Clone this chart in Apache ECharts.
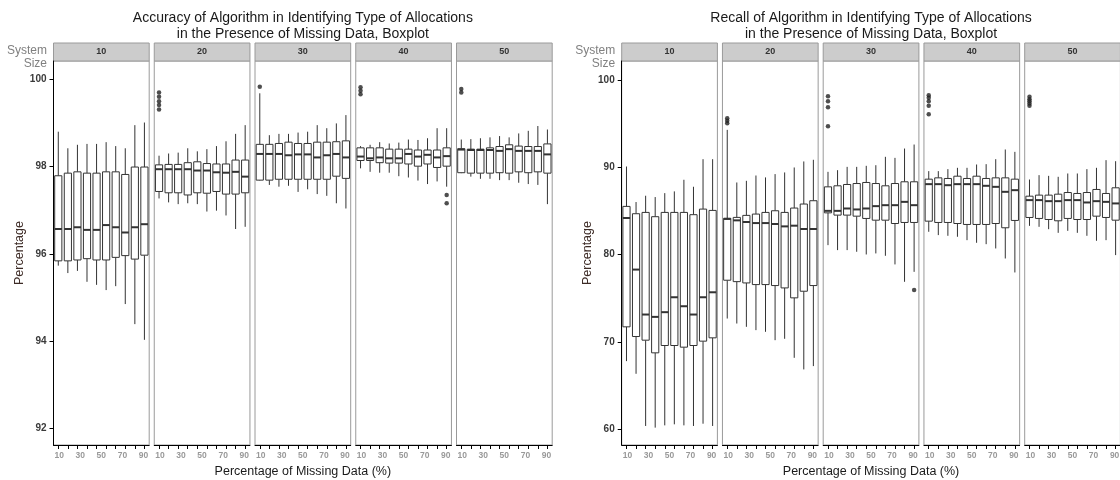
<!DOCTYPE html>
<html>
<head>
<meta charset="utf-8">
<title>Accuracy and Recall boxplots</title>
<script src="https://cdn.jsdelivr.net/npm/echarts@6/dist/echarts.min.js"></script>
<style>
  html, body { margin: 0; padding: 0; background: #fff; }
  #myChart { width: 1120px; height: 480px; }
</style>
</head>
<body>
<div class="chartBox" id="myChart"></div>
<script>
// facets (system size) and x categories (missing data %)
var systemSizes = ['10', '20', '30', '40', '50']
var missingData = ['10', '20', '30', '40', '50', '60', '70', '80', '90', '100']
var missingLabels = [10, 30, 50, 70, 90]
var accTicks = [92, 94, 96, 98, 100]
var recTicks = [60, 70, 80, 90, 100]

// accuracy, one row per box: [lower whisker, Q1, median, Q3, upper whisker]
var acc10 = [
  [95.73, 95.84, 96.57, 97.79, 98.80], [95.56, 95.84, 96.57, 97.85, 98.42],
  [95.61, 95.86, 96.61, 97.88, 98.50], [95.36, 95.89, 96.55, 97.85, 98.52],
  [95.29, 95.86, 96.55, 97.85, 98.52], [95.17, 95.86, 96.66, 97.88, 98.56],
  [95.26, 95.92, 96.61, 97.88, 98.47], [94.85, 95.96, 96.49, 97.82, 98.42],
  [94.39, 95.88, 96.61, 97.99, 98.95], [94.03, 95.97, 96.68, 97.99, 99.01]
]
var acc20 = [
  [97.27, 97.43, 97.94, 98.04, 98.25], [97.18, 97.40, 97.94, 98.05, 98.30],
  [97.14, 97.40, 97.94, 98.05, 98.32], [97.16, 97.35, 97.94, 98.09, 98.42],
  [97.14, 97.40, 97.91, 98.11, 98.35], [96.97, 97.39, 97.91, 98.07, 98.40],
  [96.99, 97.43, 97.87, 98.06, 98.47], [96.88, 97.37, 97.86, 98.06, 98.58],
  [96.57, 97.37, 97.88, 98.15, 98.75], [96.62, 97.40, 97.77, 98.15, 98.95]
]
var acc30 = [
  [97.68, 97.69, 98.29, 98.51, 99.68], [97.58, 97.69, 98.29, 98.51, 98.72],
  [97.54, 97.71, 98.29, 98.53, 98.75], [97.56, 97.71, 98.26, 98.56, 98.75],
  [97.42, 97.71, 98.28, 98.53, 98.78], [97.48, 97.71, 98.28, 98.53, 98.80],
  [97.37, 97.71, 98.21, 98.56, 98.95], [97.33, 97.71, 98.26, 98.56, 98.88],
  [97.16, 97.78, 98.29, 98.57, 98.99], [97.04, 97.73, 98.21, 98.59, 99.18]
]
var acc40 = [
  [97.96, 98.14, 98.23, 98.43, 98.47], [97.88, 98.14, 98.19, 98.43, 98.50],
  [97.86, 98.09, 98.21, 98.43, 98.56], [97.86, 98.08, 98.19, 98.40, 98.53],
  [97.78, 98.08, 98.19, 98.40, 98.55], [97.75, 98.06, 98.29, 98.40, 98.62],
  [97.68, 98.01, 98.23, 98.38, 98.61], [97.60, 98.06, 98.27, 98.38, 98.65],
  [97.66, 97.98, 98.21, 98.38, 98.88], [97.54, 98.01, 98.24, 98.43, 98.88]
]
var acc50 = [
  [97.85, 97.86, 98.39, 98.41, 98.62], [97.77, 97.85, 98.38, 98.40, 98.63],
  [97.72, 97.85, 98.38, 98.40, 98.65], [97.72, 97.85, 98.38, 98.43, 98.67],
  [97.69, 97.86, 98.36, 98.46, 98.70], [97.69, 97.85, 98.40, 98.50, 98.67],
  [97.63, 97.88, 98.36, 98.47, 98.76], [97.60, 97.86, 98.36, 98.46, 98.82],
  [97.58, 97.88, 98.36, 98.46, 98.93], [97.14, 97.85, 98.28, 98.52, 98.85]
]
// outliers: [system size, missing data, value]
var accOutliers = [
  ['20', '10', 99.70], ['20', '10', 99.60], ['20', '10', 99.50], ['20', '10', 99.41], ['20', '10', 99.31],
  ['30', '10', 99.83],
  ['40', '10', 99.82], ['40', '10', 99.74], ['40', '10', 99.66], ['40', '100', 97.35], ['40', '100', 97.16],
  ['50', '10', 99.78], ['50', '10', 99.70]
]

// recall
var rec10 = [
  [67.81, 71.74, 84.21, 85.54, 90.11], [66.36, 70.63, 78.30, 84.70, 86.04],
  [60.38, 70.21, 73.15, 84.85, 86.76], [60.19, 68.76, 72.88, 84.36, 86.61],
  [60.45, 69.60, 73.42, 84.85, 87.06], [60.57, 69.60, 75.13, 84.85, 87.26],
  [60.45, 69.41, 74.10, 84.85, 88.59], [60.38, 69.60, 73.15, 84.59, 87.79],
  [60.64, 70.10, 75.13, 85.23, 90.95], [60.38, 70.48, 75.70, 85.08, 90.95]
]
var rec20 = [
  [72.69, 77.08, 84.10, 84.18, 94.31], [72.12, 76.92, 83.94, 84.28, 88.28],
  [71.74, 76.77, 83.75, 84.51, 88.47], [71.36, 76.58, 83.63, 84.66, 89.08],
  [71.17, 76.58, 83.63, 84.85, 88.86], [70.21, 76.47, 83.52, 85.04, 89.24],
  [70.37, 76.20, 83.25, 84.85, 89.43], [68.19, 75.06, 83.33, 85.35, 90.00],
  [66.86, 75.82, 82.95, 85.81, 90.69], [67.24, 76.47, 82.95, 86.19, 90.88]
]
var rec30 = [
  [81.10, 84.80, 85.03, 87.78, 89.50], [80.53, 84.54, 85.03, 87.90, 89.69],
  [80.53, 84.54, 85.30, 88.05, 90.07], [80.34, 84.42, 85.19, 88.16, 90.07],
  [80.03, 84.16, 85.30, 88.28, 90.19], [80.15, 83.96, 85.57, 88.16, 90.26],
  [79.88, 83.96, 85.68, 87.90, 91.22], [78.89, 83.58, 85.68, 88.16, 91.10],
  [76.90, 83.70, 86.06, 88.36, 92.17], [78.04, 83.70, 85.68, 88.36, 92.63]
]
var rec40 = [
  [82.63, 83.85, 88.09, 88.66, 89.58], [82.25, 83.70, 88.09, 88.81, 89.58],
  [82.17, 83.70, 87.97, 88.74, 89.81], [82.06, 83.58, 88.09, 89.00, 89.96],
  [81.67, 83.47, 88.09, 88.74, 89.96], [81.37, 83.47, 88.09, 89.00, 90.34],
  [81.21, 83.47, 87.90, 88.74, 90.38], [80.72, 83.58, 87.78, 88.81, 90.95],
  [79.57, 83.09, 87.21, 88.81, 92.06], [77.97, 83.93, 87.40, 88.66, 91.79]
]
var rec50 = [
  [83.31, 84.27, 86.26, 86.71, 88.62], [83.20, 84.16, 86.26, 86.83, 89.12],
  [82.93, 84.04, 86.14, 86.83, 89.04], [82.51, 83.89, 86.14, 86.94, 88.93],
  [82.74, 84.16, 86.26, 87.13, 89.31], [82.51, 84.04, 86.26, 87.02, 89.31],
  [82.17, 84.04, 85.99, 87.13, 89.81], [81.60, 84.42, 86.14, 87.48, 89.96],
  [81.67, 84.27, 86.06, 87.02, 90.84], [79.96, 83.96, 85.88, 87.67, 90.72]
]
var recOutliers = [
  ['20', '10', 95.64], ['20', '10', 95.34], ['20', '10', 95.07],
  ['30', '10', 98.17], ['30', '10', 97.59], ['30', '10', 96.91], ['30', '10', 94.73], ['30', '100', 75.95],
  ['40', '10', 98.28], ['40', '10', 97.98], ['40', '10', 97.59], ['40', '10', 97.06], ['40', '10', 96.11],
  ['50', '10', 98.09], ['50', '10', 97.82], ['50', '10', 97.59], ['50', '10', 97.33], ['50', '10', 97.06]
]

var charts = [
  {
    title: 'Accuracy of Algorithm in Identifying Type of Allocations\nin the Presence of Missing Data, Boxplot',
    boxes: [acc10, acc20, acc30, acc40, acc50], outliers: accOutliers,
    ticks: accTicks, min: 91.62, max: 100.42, left: 53.5
  },
  {
    title: 'Recall of Algorithm in Identifying Type of Allocations\nin the Presence of Missing Data, Boxplot',
    boxes: [rec10, rec20, rec30, rec40, rec50], outliers: recOutliers,
    ticks: recTicks, min: 58.2, max: 102.2, left: 621.7
  }
]

// layout
var panelStep = 100.75
var panelWidth = 95.7
var panelTop = 61
var panelHeight = 384
var stripHeight = 18
var font = 'Liberation Sans, Arial, sans-serif'

// ggplot style box: whiskers without caps, thick median
function renderBox(params, api) {
  var i = api.value(0)
  var lo = api.coord([i, api.value(1)])
  var q1 = api.coord([i, api.value(2)])
  var med = api.coord([i, api.value(3)])
  var q3 = api.coord([i, api.value(4)])
  var hi = api.coord([i, api.value(5)])
  var half = api.size([1, 0])[0] * 0.75 / 2
  var x = med[0]
  return {
    type: 'group',
    children: [
      { type: 'line', shape: { x1: x, y1: hi[1], x2: x, y2: q3[1] }, style: { stroke: '#333', lineWidth: 1 } },
      { type: 'line', shape: { x1: x, y1: q1[1], x2: x, y2: lo[1] }, style: { stroke: '#333', lineWidth: 1 } },
      { type: 'rect', shape: { x: x - half, y: q3[1], width: half * 2, height: q1[1] - q3[1] },
        style: { fill: '#fff', stroke: '#333', lineWidth: 1 } },
      { type: 'line', shape: { x1: x - half, y1: med[1], x2: x + half, y2: med[1] }, style: { stroke: '#333', lineWidth: 2 } }
    ]
  }
}

var grids = [], xAxes = [], yAxes = [], series = [], titles = [], graphics = []

charts.forEach(function (c, ci) {
  titles.push({
    text: c.title, left: c.left + (panelStep * 4 + panelWidth) / 2, top: 10, textAlign: 'center', padding: 0,
    textStyle: { fontSize: 14, fontWeight: 'normal', color: '#1a1a1a', lineHeight: 16, fontFamily: font }
  })
  graphics.push({
    type: 'text', x: c.left - 6.5, y: 44,
    style: { text: 'System\nSize', fontSize: 12, fontFamily: font, fill: '#808080', align: 'right', verticalAlign: 'top', lineHeight: 13 }
  })

  systemSizes.forEach(function (size, f) {
    var g = ci * 5 + f
    var x = c.left + f * panelStep

    grids.push({
      left: x, top: panelTop, width: panelWidth, height: panelHeight,
      show: true, backgroundColor: '#fff', borderColor: '#9a9a9a', borderWidth: 1,
      containLabel: false, outerBoundsMode: 'none'
    })

    // strip
    graphics.push({
      type: 'rect', shape: { x: x, y: panelTop - stripHeight, width: panelWidth, height: stripHeight },
      style: { fill: '#cccccc', stroke: '#9a9a9a', lineWidth: 1 }
    })
    graphics.push({
      type: 'text', x: x + panelWidth / 2, y: panelTop - stripHeight / 2,
      style: { text: size, fontSize: 9, fontWeight: 'bold', fontFamily: font, fill: '#333', align: 'center', verticalAlign: 'middle' }
    })

    xAxes.push({
      type: 'category', gridIndex: g, position: 'bottom', data: missingData, boundaryGap: true,
      axisLine: { show: true, onZero: false, lineStyle: { color: '#000', width: 1 } },
      axisTick: { show: true, alignWithLabel: true, interval: 0, length: 4, lineStyle: { color: '#000' } },
      axisLabel: { show: false },
      splitLine: { show: false }
    })
    // tick labels only
    xAxes.push({
      type: 'value', gridIndex: g, position: 'bottom', min: 4.5, max: 95.5,
      axisLine: { show: false }, axisTick: { show: false }, splitLine: { show: false },
      axisLabel: { customValues: missingLabels, color: '#999', fontSize: 8.5, fontWeight: 'bold', fontFamily: font, margin: 6 },
      name: f === 2 ? 'Percentage of Missing Data (%)' : '',
      nameLocation: 'middle', nameGap: 19,
      nameTextStyle: { fontSize: 12.5, color: '#1a1a1a', fontFamily: font }
    })

    yAxes.push({
      type: 'value', gridIndex: g, min: c.min, max: c.max,
      axisLine: { show: f === 0, onZero: false, lineStyle: { color: '#000', width: 1 } },
      axisTick: { show: f === 0, length: 4, customValues: c.ticks, lineStyle: { color: '#000' } },
      axisLabel: { show: f === 0, customValues: c.ticks, color: '#3a3a3a', fontSize: 10, fontWeight: 'bold', fontFamily: font, margin: 7 },
      splitLine: { show: false },
      name: f === 0 ? 'Percentage' : '',
      nameLocation: 'middle', nameGap: 27,
      nameTextStyle: { fontSize: 12.5, color: '#3d2b26', fontFamily: font }
    })

    series.push({
      type: 'custom', xAxisIndex: g * 2, yAxisIndex: g,
      data: c.boxes[f].map(function (b, i) { return [i].concat(b) }),
      encode: { x: 0, y: [1, 2, 3, 4, 5] },
      renderItem: renderBox,
      silent: true
    })
    series.push({
      type: 'scatter', xAxisIndex: g * 2, yAxisIndex: g,
      symbol: 'circle', symbolSize: 4.5,
      itemStyle: { color: '#222' },
      data: c.outliers.filter(function (o) { return o[0] === size })
        .map(function (o) { return [o[1], o[2]] }),
      silent: true
    })
  })
})

var myChart = echarts.init(document.getElementById('myChart'), null, { renderer: 'canvas' })
var option = {
  animation: false,
  backgroundColor: '#fff',
  textStyle: { fontFamily: font },
  title: titles,
  grid: grids,
  xAxis: xAxes,
  yAxis: yAxes,
  graphic: graphics,
  series: series
}
myChart.setOption(option)
</script>
</body>
</html>
